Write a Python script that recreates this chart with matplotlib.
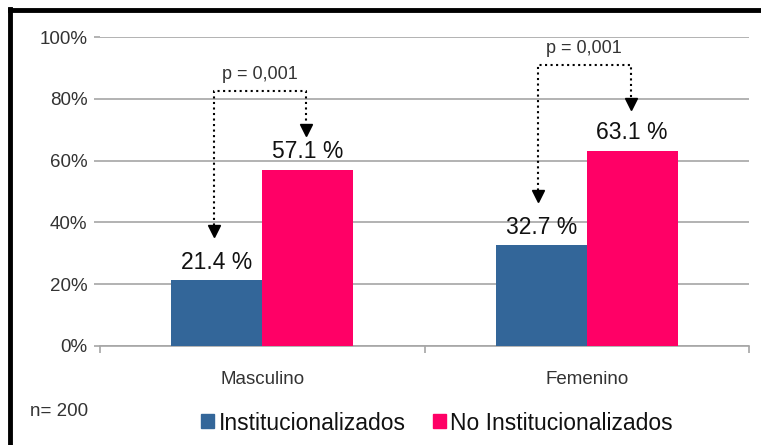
"""Grouped bars: institucionalizados vs no institucionalizados por sexo."""
import matplotlib
matplotlib.use("Agg")
import matplotlib.pyplot as plt
from matplotlib.lines import Line2D
from matplotlib.patches import Rectangle
import numpy as np

plt.rcParams['font.family'] = ['Liberation Sans', 'DejaVu Sans']

categories = ["Masculino", "Femenino"]
series_names = ["Institucionalizados", "No Institucionalizados"]
inst = [21.4, 32.7]
no_inst = [57.1, 63.1]
p_labels = ["p = 0,001", "p = 0,001"]
# bracket heights (horizontal line) and arrow tip heights, in % units
bracket_y = [82.5, 91.0]
tip_inst = [35.3, 46.6]
tip_no = [68.0, 76.4]
yticks = [0, 20, 40, 60, 80, 100]

BLUE = '#336699'
PINK = '#ff0066'
GRID = '#a6a6a6'
TXT = '#333333'

fig = plt.figure(figsize=(7.61, 4.45), dpi=100)
ax = fig.add_axes([100 / 761, 99 / 445, 649 / 761, 309 / 445])

x = np.arange(len(categories)) + 0.5
w = 0.28
ax.bar(x - w / 2, inst, w, color=BLUE, zorder=3)
ax.bar(x + w / 2, no_inst, w, color=PINK, zorder=3)

ax.set_xlim(0, 2)
ax.set_ylim(0, 100)
ax.set_yticks(yticks)
ax.set_yticklabels([f"{t}%" for t in yticks], fontsize=13.5, color=TXT)
ax.yaxis.grid(True, color=GRID, linewidth=1.2, zorder=0)
ax.tick_params(axis='y', length=4, color=GRID, width=1.2, pad=5)
ax.set_xticks([0, 1, 2])
ax.set_xticklabels([])
ax.tick_params(axis='x', length=5, color=GRID, width=1.2, direction='out')
for s in ['left', 'right', 'top']:
    ax.spines[s].set_visible(False)
ax.spines['bottom'].set_color(GRID)
ax.spines['bottom'].set_linewidth(1.2)

for xi, name in zip(x, categories):
    ax.text(xi, -8.0, name, ha='center', va='top', fontsize=13.5, color=TXT)

for xi, v in zip(x - w / 2, inst):
    ax.text(xi, v + 1.8, f"{v:.1f} %", ha='center', va='bottom', fontsize=16.5, color='#111111')
for xi, v in zip(x + w / 2, no_inst):
    ax.text(xi, v + 2.2, f"{v:.1f} %", ha='center', va='bottom', fontsize=16.5, color='#111111')

# p-value brackets
for i in range(len(categories)):
    xl, xr = x[i] - w / 2 - 0.01, x[i] + w / 2 - 0.005
    yb = bracket_y[i]
    ax.plot([xl, xl, xr, xr], [tip_inst[i] + 2, yb, yb, tip_no[i] + 2],
            color='black', linestyle=':', linewidth=1.5, zorder=4)
    ax.plot([xl, xr], [tip_inst[i] + 2, tip_no[i] + 2], linestyle='none',
            marker='v', markersize=8, color='black', zorder=5)
    ax.text((xl + xr) / 2, yb + 2.5, p_labels[i], ha='center', va='bottom',
            fontsize=13, color=TXT)

# legend
fig.text(30 / 761, 1 - 412 / 445, "n= 200", fontsize=13.5, color=TXT, va='center')
handles = [Rectangle((0, 0), 1, 1, color=BLUE), Rectangle((0, 0), 1, 1, color=PINK)]
fig.legend(handles, series_names, loc='center', bbox_to_anchor=(437 / 761, 1 - 423 / 445),
           ncol=2, frameon=False, fontsize=16.5, handlelength=0.55, handleheight=0.55,
           handletextpad=0.2, columnspacing=1.2, labelcolor='#111111')

# outer frame (left and top only)
fig.add_artist(Line2D([9.5 / 761, 9.5 / 761], [0, 1 - 9 / 445], color='black', linewidth=3.5,
                      transform=fig.transFigure, solid_capstyle='projecting'))
fig.add_artist(Line2D([9.5 / 761, 1], [1 - 9.5 / 445, 1 - 9.5 / 445], color='black', linewidth=3.5,
                      transform=fig.transFigure, solid_capstyle='projecting'))

fig.savefig("out.png", dpi=100)
